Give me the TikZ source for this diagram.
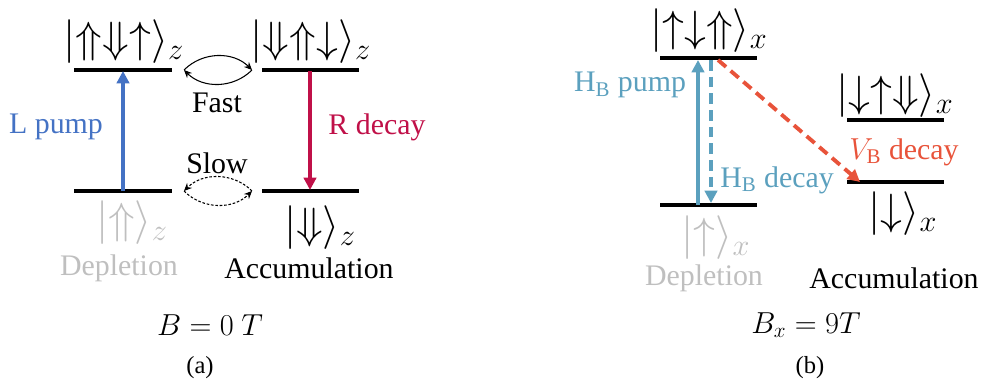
\documentclass[tikz,border=0pt]{standalone}
\usepackage{amsmath,amssymb}
\usepackage{fontspec}
\setmainfont{Liberation Serif}
\usepackage{tikz}
\usetikzlibrary{arrows.meta, positioning, calc}
\usepackage{xcolor}
\definecolor{pumpblue}{RGB}{68,114,196}
\definecolor{decayred}{RGB}{192,16,72}
\definecolor{hbblue}{RGB}{91,160,190}
\definecolor{vbred}{RGB}{232,83,58}
\definecolor{depgray}{RGB}{191,191,191}
\tikzset{
  level/.style={line width=2pt},
  txt/.style={font=\fontsize{17}{20}\selectfont, inner sep=0pt},
  ket/.style={font=\fontsize{25}{28}\selectfont, inner sep=0pt},
  thickarr/.style={line width=2.2pt, -{Triangle[length=7pt,width=7pt]}},
  swaparr/.style={line width=0.6pt, -{Stealth[length=4.5pt,width=4pt]}},
}

\begin{document}
\begin{tikzpicture}[x=0.02cm, y=-0.02cm]
  \useasboundingbox (0,0) rectangle (982,385);
  % (a) levels
  \coordinate (tlA) at (74,70);   \coordinate (tlB) at (172,70);
  \coordinate (trA) at (262,70);  \coordinate (trB) at (359,70);
  \coordinate (blA) at (74,191);  \coordinate (blB) at (172,191);
  \coordinate (brA) at (262,191); \coordinate (brB) at (359,191);
  \foreach \l in {tl,tr,bl,br} { \draw[level] (\l A) -- (\l B); }
  \node[ket] (ketTL) at (124,42) {$|{\Uparrow}{\Downarrow}{\uparrow}\rangle_z$};
  \node[ket] (ketTR) at (311,42) {$|{\Downarrow}{\Uparrow}{\downarrow}\rangle_z$};
  \node[ket, text=depgray] (ketBL) at (132,223) {$|{\Uparrow}\rangle_z$};
  \node[ket] (ketBR) at (320,228) {$|{\Downarrow}\rangle_z$};
  \coordinate (pumpS) at (123,191); \coordinate (pumpE) at (123,71);
  \coordinate (decS) at (310,71);   \coordinate (decE) at (310,190);
  \draw[thickarr, pumpblue] (pumpS) -- (pumpE);
  \draw[thickarr, decayred] (decS) -- (decE);
  \node[txt, text=pumpblue] (lpump) at (56,127) {L pump};
  \node[txt, text=decayred] (rdecay) at (377,127) {R decay};
  % fast / slow exchange
  \coordinate (fL) at (184,70); \coordinate (fR) at (252,70);
  \coordinate (sL) at (184,191); \coordinate (sR) at (252,191);
  \draw[swaparr] (fL) to[bend left=45] (fR);
  \draw[swaparr] (fR) to[bend left=45] (fL);
  \draw[swaparr, dashed, dash pattern=on 1.5pt off 1pt] (sR) to[bend right=45] (sL);
  \draw[swaparr, dashed, dash pattern=on 1.5pt off 1pt] (sL) to[bend right=45] (sR);
  \node[txt] (fast) at (217,103) {Fast};
  \node[txt] (slow) at (217,163) {Slow};
  \node[txt, text=depgray] (deplA) at (119,268) {Depletion};
  \node[txt] (accuA) at (309,268) {Accumulation};
  \node[txt] (fieldA) at (210,325) {$B = 0\ T$};
  \node[font=\fontsize{14}{16}\selectfont, inner sep=0pt] (capA) at (200,368) {(a)};

  % (b) levels
  \coordinate (tA) at (660,58);   \coordinate (tB) at (757,58);
  \coordinate (bA) at (660,205);  \coordinate (bB) at (757,205);
  \coordinate (rA) at (847,120);  \coordinate (rB) at (944,120);
  \coordinate (qA) at (847,182);  \coordinate (qB) at (944,182);
  \foreach \l in {t,b,r,q} { \draw[level] (\l A) -- (\l B); }
  \node[ket] (ketT) at (709,31) {$|{\uparrow}{\downarrow}{\Uparrow}\rangle_x$};
  \node[ket] (ketR) at (895,96) {$|{\downarrow}{\uparrow}{\Downarrow}\rangle_x$};
  \node[ket] (ketQ) at (903,214) {$|{\downarrow}\rangle_x$};
  \node[ket, text=depgray] (ketB) at (716,238) {$|{\uparrow}\rangle_x$};
  \coordinate (hpS) at (698,205); \coordinate (hpE) at (698,60);
  \coordinate (hdS) at (711,60);  \coordinate (hdE) at (711,203);
  \coordinate (vdS) at (718,60);  \coordinate (vdE) at (860,182);
  \draw[thickarr, hbblue] (hpS) -- (hpE);
  \draw[thickarr, hbblue, dash pattern=on 6pt off 3.5pt] (hdS) -- (hdE);
  \draw[thickarr, vbred, dash pattern=on 6pt off 3.5pt] (vdS) -- (vdE);
  \node[txt, text=hbblue] (hpump) at (630,85) {H\textsubscript{B} pump};
  \node[txt, text=hbblue] (hdecay) at (777,180) {H\textsubscript{B} decay};
  \node[txt, text=vbred] (vdecay) at (904,152) {$V_{\mathrm{B}}$ decay};
  \node[txt, text=depgray] (deplB) at (704,278) {Depletion};
  \node[txt] (accuB) at (894,278) {Accumulation};
  \node[txt] (fieldB) at (806,325) {$B_x = 9T$};
  \node[font=\fontsize{14}{16}\selectfont, inner sep=0pt] (capB) at (810,368) {(b)};
\end{tikzpicture}
\end{document}
